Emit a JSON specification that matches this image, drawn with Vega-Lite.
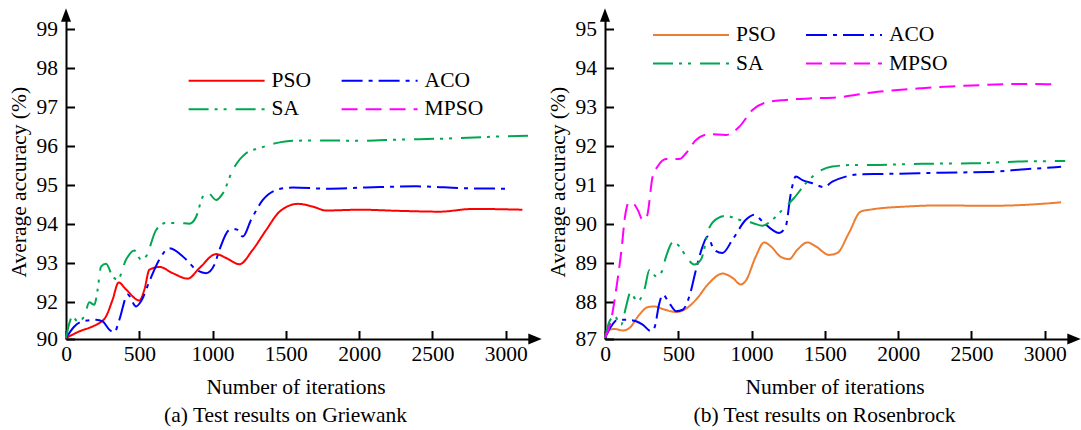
{
  "$schema": "https://vega.github.io/schema/vega-lite/v6.json",
  "padding": {"left": 8, "top": 8, "right": 0, "bottom": 0},
  "spacing": 5,
  "config": {
    "font": "Liberation Serif",
    "view": {"stroke": null},
    "axis": {
      "domainColor": "black", "domainWidth": 2, "tickColor": "black", "tickWidth": 2, "tickSize": -8.5,
      "labelFontSize": 21.5, "labelColor": "black", "labelFont": "Liberation Serif",
      "titleFontSize": 21.5, "titleFontWeight": "normal", "titleColor": "black", "titleFont": "Liberation Serif",
      "grid": false, "labelFlush": false, "labelOverlap": false, "labelBound": false
    },
    "legend": {
      "labelFontSize": 21.5, "labelColor": "black", "labelFont": "Liberation Serif", "padding": 0, "offset": 0
    },
    "title": {"fontSize": 21.5, "fontWeight": "normal", "color": "black", "font": "Liberation Serif"}
  },
  "resolve": {
    "scale": {"x": "independent", "y": "independent", "color": "independent", "strokeDash": "independent"},
    "legend": {"color": "independent", "strokeDash": "independent"}
  },
  "hconcat": [
    {
      "width": 469, "height": 324,
      "title": {"text": "(a) Test results on Griewank", "orient": "bottom", "anchor": "middle", "frame": "group", "dx": -15, "offset": 24, "baseline": "alphabetic"},
      "layer": [
        {
          "data": {"values": [
            {"alg": "PSO", "x": 0, "y": 90.05}, {"alg": "PSO", "x": 91, "y": 90.41}, {"alg": "PSO", "x": 182, "y": 90.68}, {"alg": "PSO", "x": 227, "y": 90.86}, {"alg": "PSO", "x": 273, "y": 91.22}, {"alg": "PSO", "x": 318, "y": 92.06}, {"alg": "PSO", "x": 359, "y": 92.5}, {"alg": "PSO", "x": 410, "y": 92.32}, {"alg": "PSO", "x": 501, "y": 92.04}, {"alg": "PSO", "x": 535, "y": 92.32}, {"alg": "PSO", "x": 569, "y": 92.83}, {"alg": "PSO", "x": 637, "y": 92.9}, {"alg": "PSO", "x": 728, "y": 92.74}, {"alg": "PSO", "x": 831, "y": 92.6}, {"alg": "PSO", "x": 910, "y": 92.87}, {"alg": "PSO", "x": 1024, "y": 93.23}, {"alg": "PSO", "x": 1093, "y": 93.13}, {"alg": "PSO", "x": 1183, "y": 92.97}, {"alg": "PSO", "x": 1274, "y": 93.34}, {"alg": "PSO", "x": 1366, "y": 93.85}, {"alg": "PSO", "x": 1457, "y": 94.32}, {"alg": "PSO", "x": 1582, "y": 94.52}, {"alg": "PSO", "x": 1684, "y": 94.45}, {"alg": "PSO", "x": 1776, "y": 94.35}, {"alg": "PSO", "x": 2003, "y": 94.37}, {"alg": "PSO", "x": 2276, "y": 94.34}, {"alg": "PSO", "x": 2549, "y": 94.32}, {"alg": "PSO", "x": 2777, "y": 94.39}, {"alg": "PSO", "x": 3114, "y": 94.37},
            {"alg": "ACO", "x": 0, "y": 90.05}, {"alg": "ACO", "x": 57, "y": 90.68}, {"alg": "ACO", "x": 113, "y": 90.95}, {"alg": "ACO", "x": 205, "y": 91.04}, {"alg": "ACO", "x": 250, "y": 90.95}, {"alg": "ACO", "x": 296, "y": 90.5}, {"alg": "ACO", "x": 330, "y": 90.36}, {"alg": "ACO", "x": 364, "y": 91.04}, {"alg": "ACO", "x": 421, "y": 92.19}, {"alg": "ACO", "x": 478, "y": 91.76}, {"alg": "ACO", "x": 512, "y": 92.02}, {"alg": "ACO", "x": 569, "y": 92.53}, {"alg": "ACO", "x": 637, "y": 93.09}, {"alg": "ACO", "x": 705, "y": 93.38}, {"alg": "ACO", "x": 820, "y": 93.09}, {"alg": "ACO", "x": 888, "y": 92.83}, {"alg": "ACO", "x": 956, "y": 92.74}, {"alg": "ACO", "x": 1013, "y": 92.96}, {"alg": "ACO", "x": 1047, "y": 93.34}, {"alg": "ACO", "x": 1115, "y": 93.85}, {"alg": "ACO", "x": 1161, "y": 93.87}, {"alg": "ACO", "x": 1207, "y": 93.68}, {"alg": "ACO", "x": 1263, "y": 94.11}, {"alg": "ACO", "x": 1343, "y": 94.62}, {"alg": "ACO", "x": 1457, "y": 94.9}, {"alg": "ACO", "x": 1548, "y": 94.94}, {"alg": "ACO", "x": 1776, "y": 94.91}, {"alg": "ACO", "x": 2049, "y": 94.94}, {"alg": "ACO", "x": 2390, "y": 94.97}, {"alg": "ACO", "x": 2732, "y": 94.92}, {"alg": "ACO", "x": 3023, "y": 94.91},
            {"alg": "SA", "x": 0, "y": 90.05}, {"alg": "SA", "x": 23, "y": 90.86}, {"alg": "SA", "x": 45, "y": 91.22}, {"alg": "SA", "x": 79, "y": 90.95}, {"alg": "SA", "x": 125, "y": 91.22}, {"alg": "SA", "x": 159, "y": 91.98}, {"alg": "SA", "x": 193, "y": 91.85}, {"alg": "SA", "x": 216, "y": 92.32}, {"alg": "SA", "x": 239, "y": 92.91}, {"alg": "SA", "x": 273, "y": 92.98}, {"alg": "SA", "x": 318, "y": 92.66}, {"alg": "SA", "x": 352, "y": 92.57}, {"alg": "SA", "x": 410, "y": 93.09}, {"alg": "SA", "x": 466, "y": 93.32}, {"alg": "SA", "x": 512, "y": 93.09}, {"alg": "SA", "x": 546, "y": 93.17}, {"alg": "SA", "x": 615, "y": 93.85}, {"alg": "SA", "x": 683, "y": 94.03}, {"alg": "SA", "x": 774, "y": 94.03}, {"alg": "SA", "x": 842, "y": 94.01}, {"alg": "SA", "x": 888, "y": 94.19}, {"alg": "SA", "x": 933, "y": 94.7}, {"alg": "SA", "x": 967, "y": 94.81}, {"alg": "SA", "x": 1024, "y": 94.62}, {"alg": "SA", "x": 1070, "y": 94.79}, {"alg": "SA", "x": 1138, "y": 95.39}, {"alg": "SA", "x": 1229, "y": 95.82}, {"alg": "SA", "x": 1320, "y": 95.95}, {"alg": "SA", "x": 1434, "y": 96.08}, {"alg": "SA", "x": 1548, "y": 96.14}, {"alg": "SA", "x": 1776, "y": 96.15}, {"alg": "SA", "x": 2003, "y": 96.14}, {"alg": "SA", "x": 2276, "y": 96.17}, {"alg": "SA", "x": 2618, "y": 96.2}, {"alg": "SA", "x": 2959, "y": 96.25}, {"alg": "SA", "x": 3164, "y": 96.27}
          ]},
          "mark": {"type": "line", "interpolate": "monotone", "strokeWidth": 2},
          "encoding": {
            "x": {"field": "x", "type": "quantitative", "scale": {"domain": [0, 3200], "nice": false, "zero": false},
              "axis": {"values": [0, 500, 1000, 1500, 2000, 2500, 3000], "format": "d", "title": "Number of iterations", "titleX": 229.5, "titleY": 54.7, "titleBaseline": "alphabetic", "titleAlign": "center", "labelBaseline": "alphabetic", "labelPadding": 29.9}},
            "y": {"field": "y", "type": "quantitative", "scale": {"domain": [90, 92, 99.37], "range": [324, 287, 0], "nice": false, "zero": false},
              "axis": {"values": [90, 92, 93, 94, 95, 96, 97, 98, 99], "format": "d", "title": "Average accuracy (%)", "titleX": -41, "titleY": 166.7, "titleBaseline": "alphabetic", "titleAngle": 270, "titleAlign": "center", "labelPadding": 16.9}},
            "color": {"field": "alg", "type": "nominal",
              "scale": {"domain": ["PSO", "ACO", "SA", "MPSO"], "range": ["#ff0000", "#0000ff", "#00a650", "#ff00ff"]},
              "legend": {"orient": "none", "legendX": 121.6, "legendY": 53.7, "direction": "horizontal", "columns": 2, "title": null, "symbolType": "stroke", "symbolSize": 5776, "symbolStrokeWidth": 2, "labelOffset": 6, "columnPadding": 29, "rowPadding": 4.6, "clipHeight": 24}},
            "strokeDash": {"field": "alg", "type": "nominal",
              "scale": {"domain": ["PSO", "ACO", "SA", "MPSO"], "range": [[1, 0], [21, 6, 4, 6], [20, 6, 3, 6, 3, 9], [16, 8]]},
              "legend": {"orient": "none", "legendX": 121.6, "legendY": 53.7, "direction": "horizontal", "columns": 2, "title": null, "symbolType": "stroke", "symbolSize": 5776, "symbolStrokeWidth": 2, "labelOffset": 6, "columnPadding": 29, "rowPadding": 4.6, "clipHeight": 24}}
          }
        },
        {
          "data": {"values": [{}]},
          "mark": {"type": "point", "shape": "M0,-1L0.75,1L-0.75,1Z", "filled": true, "color": "black", "opacity": 1, "size": 180, "strokeWidth": 0},
          "encoding": {"x": {"datum": 0}, "y": {"datum": 99.37}}
        },
        {
          "data": {"values": [{}]},
          "mark": {"type": "point", "shape": "M1,0L-1,-0.82L-1,0.82Z", "filled": true, "color": "black", "opacity": 1, "size": 180, "strokeWidth": 0},
          "encoding": {"x": {"datum": 3200}, "y": {"datum": 90}}
        }
      ]
    },
    {
      "width": 469, "height": 324,
      "title": {"text": "(b) Test results on Rosenbrock", "orient": "bottom", "anchor": "middle", "frame": "group", "dx": -15, "offset": 24, "baseline": "alphabetic"},
      "layer": [
        {
          "data": {"values": [
            {"alg": "PSO", "x": 0, "y": 87.03}, {"alg": "PSO", "x": 31, "y": 87.25}, {"alg": "PSO", "x": 65, "y": 87.27}, {"alg": "PSO", "x": 121, "y": 87.23}, {"alg": "PSO", "x": 167, "y": 87.3}, {"alg": "PSO", "x": 235, "y": 87.66}, {"alg": "PSO", "x": 291, "y": 87.86}, {"alg": "PSO", "x": 337, "y": 87.88}, {"alg": "PSO", "x": 394, "y": 87.81}, {"alg": "PSO", "x": 485, "y": 87.73}, {"alg": "PSO", "x": 541, "y": 87.79}, {"alg": "PSO", "x": 621, "y": 88.06}, {"alg": "PSO", "x": 711, "y": 88.49}, {"alg": "PSO", "x": 802, "y": 88.73}, {"alg": "PSO", "x": 870, "y": 88.62}, {"alg": "PSO", "x": 927, "y": 88.45}, {"alg": "PSO", "x": 961, "y": 88.55}, {"alg": "PSO", "x": 1029, "y": 89.17}, {"alg": "PSO", "x": 1086, "y": 89.53}, {"alg": "PSO", "x": 1131, "y": 89.43}, {"alg": "PSO", "x": 1199, "y": 89.16}, {"alg": "PSO", "x": 1256, "y": 89.1}, {"alg": "PSO", "x": 1312, "y": 89.34}, {"alg": "PSO", "x": 1381, "y": 89.53}, {"alg": "PSO", "x": 1438, "y": 89.43}, {"alg": "PSO", "x": 1528, "y": 89.21}, {"alg": "PSO", "x": 1585, "y": 89.26}, {"alg": "PSO", "x": 1664, "y": 89.77}, {"alg": "PSO", "x": 1744, "y": 90.32}, {"alg": "PSO", "x": 1823, "y": 90.38}, {"alg": "PSO", "x": 2050, "y": 90.45}, {"alg": "PSO", "x": 2277, "y": 90.48}, {"alg": "PSO", "x": 2617, "y": 90.47}, {"alg": "PSO", "x": 2844, "y": 90.49}, {"alg": "PSO", "x": 3112, "y": 90.56},
            {"alg": "ACO", "x": 0, "y": 87.03}, {"alg": "ACO", "x": 42, "y": 87.34}, {"alg": "ACO", "x": 87, "y": 87.52}, {"alg": "ACO", "x": 144, "y": 87.52}, {"alg": "ACO", "x": 212, "y": 87.48}, {"alg": "ACO", "x": 257, "y": 87.39}, {"alg": "ACO", "x": 315, "y": 87.21}, {"alg": "ACO", "x": 337, "y": 87.3}, {"alg": "ACO", "x": 371, "y": 87.97}, {"alg": "ACO", "x": 394, "y": 88.19}, {"alg": "ACO", "x": 439, "y": 87.97}, {"alg": "ACO", "x": 485, "y": 87.75}, {"alg": "ACO", "x": 530, "y": 87.79}, {"alg": "ACO", "x": 575, "y": 88.14}, {"alg": "ACO", "x": 621, "y": 88.83}, {"alg": "ACO", "x": 666, "y": 89.43}, {"alg": "ACO", "x": 700, "y": 89.68}, {"alg": "ACO", "x": 745, "y": 89.34}, {"alg": "ACO", "x": 802, "y": 89.26}, {"alg": "ACO", "x": 870, "y": 89.6}, {"alg": "ACO", "x": 961, "y": 90.11}, {"alg": "ACO", "x": 1018, "y": 90.24}, {"alg": "ACO", "x": 1074, "y": 90.07}, {"alg": "ACO", "x": 1142, "y": 89.85}, {"alg": "ACO", "x": 1188, "y": 89.77}, {"alg": "ACO", "x": 1233, "y": 89.94}, {"alg": "ACO", "x": 1268, "y": 90.79}, {"alg": "ACO", "x": 1302, "y": 91.22}, {"alg": "ACO", "x": 1347, "y": 91.13}, {"alg": "ACO", "x": 1415, "y": 91.05}, {"alg": "ACO", "x": 1494, "y": 90.95}, {"alg": "ACO", "x": 1551, "y": 91.09}, {"alg": "ACO", "x": 1642, "y": 91.22}, {"alg": "ACO", "x": 1732, "y": 91.28}, {"alg": "ACO", "x": 1937, "y": 91.29}, {"alg": "ACO", "x": 2277, "y": 91.32}, {"alg": "ACO", "x": 2617, "y": 91.34}, {"alg": "ACO", "x": 2867, "y": 91.41}, {"alg": "ACO", "x": 3112, "y": 91.47},
            {"alg": "SA", "x": 0, "y": 87.03}, {"alg": "SA", "x": 31, "y": 87.48}, {"alg": "SA", "x": 65, "y": 87.61}, {"alg": "SA", "x": 110, "y": 87.39}, {"alg": "SA", "x": 144, "y": 87.88}, {"alg": "SA", "x": 172, "y": 88.23}, {"alg": "SA", "x": 223, "y": 88.02}, {"alg": "SA", "x": 269, "y": 88.32}, {"alg": "SA", "x": 303, "y": 88.82}, {"alg": "SA", "x": 349, "y": 88.66}, {"alg": "SA", "x": 383, "y": 88.75}, {"alg": "SA", "x": 417, "y": 89.17}, {"alg": "SA", "x": 462, "y": 89.53}, {"alg": "SA", "x": 507, "y": 89.43}, {"alg": "SA", "x": 553, "y": 89.17}, {"alg": "SA", "x": 609, "y": 88.96}, {"alg": "SA", "x": 655, "y": 89.09}, {"alg": "SA", "x": 711, "y": 89.9}, {"alg": "SA", "x": 768, "y": 90.15}, {"alg": "SA", "x": 825, "y": 90.21}, {"alg": "SA", "x": 916, "y": 90.11}, {"alg": "SA", "x": 1006, "y": 90.03}, {"alg": "SA", "x": 1074, "y": 89.96}, {"alg": "SA", "x": 1142, "y": 90.11}, {"alg": "SA", "x": 1211, "y": 90.37}, {"alg": "SA", "x": 1290, "y": 90.67}, {"alg": "SA", "x": 1370, "y": 91.05}, {"alg": "SA", "x": 1460, "y": 91.35}, {"alg": "SA", "x": 1551, "y": 91.48}, {"alg": "SA", "x": 1710, "y": 91.52}, {"alg": "SA", "x": 1823, "y": 91.52}, {"alg": "SA", "x": 2163, "y": 91.55}, {"alg": "SA", "x": 2504, "y": 91.56}, {"alg": "SA", "x": 2844, "y": 91.61}, {"alg": "SA", "x": 3140, "y": 91.62},
            {"alg": "MPSO", "x": 0, "y": 87.03}, {"alg": "MPSO", "x": 42, "y": 87.52}, {"alg": "MPSO", "x": 76, "y": 88.32}, {"alg": "MPSO", "x": 110, "y": 89.26}, {"alg": "MPSO", "x": 140, "y": 90.28}, {"alg": "MPSO", "x": 162, "y": 90.55}, {"alg": "MPSO", "x": 189, "y": 90.54}, {"alg": "MPSO", "x": 223, "y": 90.37}, {"alg": "MPSO", "x": 257, "y": 90.11}, {"alg": "MPSO", "x": 285, "y": 90.19}, {"alg": "MPSO", "x": 325, "y": 91.22}, {"alg": "MPSO", "x": 359, "y": 91.48}, {"alg": "MPSO", "x": 417, "y": 91.67}, {"alg": "MPSO", "x": 507, "y": 91.67}, {"alg": "MPSO", "x": 553, "y": 91.82}, {"alg": "MPSO", "x": 621, "y": 92.16}, {"alg": "MPSO", "x": 711, "y": 92.31}, {"alg": "MPSO", "x": 825, "y": 92.29}, {"alg": "MPSO", "x": 916, "y": 92.5}, {"alg": "MPSO", "x": 1006, "y": 92.93}, {"alg": "MPSO", "x": 1097, "y": 93.12}, {"alg": "MPSO", "x": 1233, "y": 93.19}, {"alg": "MPSO", "x": 1415, "y": 93.23}, {"alg": "MPSO", "x": 1596, "y": 93.26}, {"alg": "MPSO", "x": 1823, "y": 93.38}, {"alg": "MPSO", "x": 2163, "y": 93.49}, {"alg": "MPSO", "x": 2504, "y": 93.56}, {"alg": "MPSO", "x": 2844, "y": 93.6}, {"alg": "MPSO", "x": 3060, "y": 93.59}
          ]},
          "mark": {"type": "line", "interpolate": "monotone", "strokeWidth": 2},
          "encoding": {
            "x": {"field": "x", "type": "quantitative", "scale": {"domain": [0, 3200], "nice": false, "zero": false},
              "axis": {"values": [0, 500, 1000, 1500, 2000, 2500, 3000], "format": "d", "title": "Number of iterations", "titleX": 229.5, "titleY": 54.7, "titleBaseline": "alphabetic", "titleAlign": "center", "labelBaseline": "alphabetic", "labelPadding": 29.9}},
            "y": {"field": "y", "type": "quantitative", "scale": {"domain": [87, 88, 95.37], "range": [324, 287, 0], "nice": false, "zero": false},
              "axis": {"values": [87, 88, 89, 90, 91, 92, 93, 94, 95], "format": "d", "title": "Average accuracy (%)", "titleX": -41, "titleY": 166.7, "titleBaseline": "alphabetic", "titleAngle": 270, "titleAlign": "center", "labelPadding": 16.9}},
            "color": {"field": "alg", "type": "nominal",
              "scale": {"domain": ["PSO", "ACO", "SA", "MPSO"], "range": ["#ed7d31", "#0000ff", "#00a650", "#ff00ff"]},
              "legend": {"orient": "none", "legendX": 47, "legendY": 8, "direction": "horizontal", "columns": 2, "title": null, "symbolType": "stroke", "symbolSize": 5776, "symbolStrokeWidth": 2, "labelOffset": 6, "columnPadding": 29, "rowPadding": 4.6, "clipHeight": 24}},
            "strokeDash": {"field": "alg", "type": "nominal",
              "scale": {"domain": ["PSO", "ACO", "SA", "MPSO"], "range": [[1, 0], [21, 6, 4, 6], [20, 6, 3, 6, 3, 9], [16, 8]]},
              "legend": {"orient": "none", "legendX": 47, "legendY": 8, "direction": "horizontal", "columns": 2, "title": null, "symbolType": "stroke", "symbolSize": 5776, "symbolStrokeWidth": 2, "labelOffset": 6, "columnPadding": 29, "rowPadding": 4.6, "clipHeight": 24}}
          }
        },
        {
          "data": {"values": [{}]},
          "mark": {"type": "point", "shape": "M0,-1L0.75,1L-0.75,1Z", "filled": true, "color": "black", "opacity": 1, "size": 180, "strokeWidth": 0},
          "encoding": {"x": {"datum": 0}, "y": {"datum": 95.37}}
        },
        {
          "data": {"values": [{}]},
          "mark": {"type": "point", "shape": "M1,0L-1,-0.82L-1,0.82Z", "filled": true, "color": "black", "opacity": 1, "size": 180, "strokeWidth": 0},
          "encoding": {"x": {"datum": 3200}, "y": {"datum": 87}}
        }
      ]
    }
  ]
}
